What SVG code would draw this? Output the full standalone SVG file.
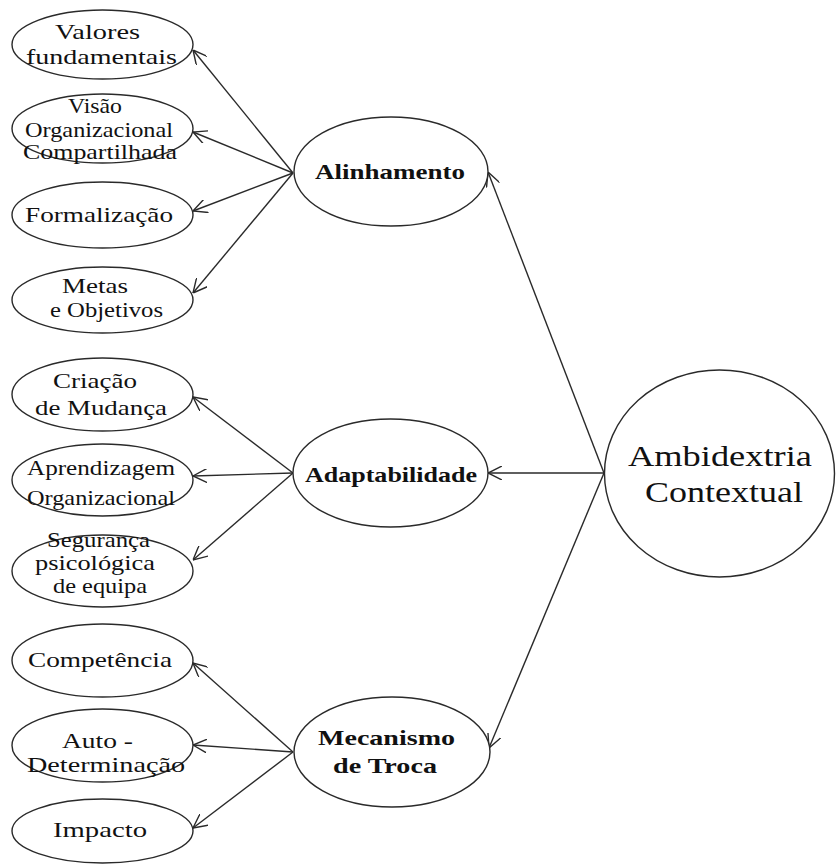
<svg xmlns="http://www.w3.org/2000/svg" width="836" height="866" viewBox="0 0 836 866">
<style>
.n{fill:#fff;stroke:#2a2a2a;stroke-width:1.4}
.t{font-family:"Liberation Serif","Times New Roman",serif;font-size:21px;fill:#111}
.b{font-family:"Liberation Serif","Times New Roman",serif;font-size:22px;font-weight:bold;fill:#111}
.big{font-family:"Liberation Serif","Times New Roman",serif;font-size:29px;fill:#111}
.c{stroke:#2a2a2a;stroke-width:1.4;fill:none}
</style>
<defs>
<marker id="ar" viewBox="0 0 14 14" refX="14" refY="7" markerWidth="14" markerHeight="14" markerUnits="userSpaceOnUse" orient="auto">
<path d="M0,0 L14,7 L0,14" fill="none" stroke="#2a2a2a" stroke-width="1.4"/>
</marker>
</defs>
<rect width="836" height="866" fill="#fff"/>
<g id="connectors">
<line class="c" x1="293" y1="173" x2="193" y2="50" marker-end="url(#ar)"/>
<line class="c" x1="293" y1="173" x2="193" y2="132" marker-end="url(#ar)"/>
<line class="c" x1="293" y1="173" x2="193" y2="211" marker-end="url(#ar)"/>
<line class="c" x1="293" y1="173" x2="193" y2="293" marker-end="url(#ar)"/>
<line class="c" x1="293" y1="473" x2="193" y2="397" marker-end="url(#ar)"/>
<line class="c" x1="293" y1="473" x2="193" y2="476" marker-end="url(#ar)"/>
<line class="c" x1="293" y1="473" x2="193" y2="560" marker-end="url(#ar)"/>
<line class="c" x1="293" y1="752" x2="193" y2="663" marker-end="url(#ar)"/>
<line class="c" x1="293" y1="752" x2="193" y2="745" marker-end="url(#ar)"/>
<line class="c" x1="293" y1="752" x2="193" y2="828" marker-end="url(#ar)"/>
<line class="c" x1="604" y1="473" x2="488" y2="172" marker-end="url(#ar)"/>
<line class="c" x1="604" y1="473" x2="488" y2="473" marker-end="url(#ar)"/>
<line class="c" x1="604" y1="473" x2="489" y2="748" marker-end="url(#ar)"/>
</g>
<g id="valores"><ellipse class="n" cx="102.5" cy="44.5" rx="90.5" ry="34.5"/>
<text class="t" x="55" y="39" textLength="85" lengthAdjust="spacingAndGlyphs">Valores</text>
<text class="t" x="26" y="64" textLength="151" lengthAdjust="spacingAndGlyphs">fundamentais</text></g>
<g id="visao"><ellipse class="n" cx="102.5" cy="128.5" rx="90.5" ry="34.5"/>
<text class="t" x="68" y="113" textLength="54" lengthAdjust="spacingAndGlyphs">Visão</text>
<text class="t" x="25" y="137" textLength="148" lengthAdjust="spacingAndGlyphs">Organizacional</text>
<text class="t" x="23" y="159" textLength="154" lengthAdjust="spacingAndGlyphs">Compartilhada</text></g>
<g id="formalizacao"><ellipse class="n" cx="102.5" cy="215" rx="90.5" ry="33"/>
<text class="t" x="25" y="222" textLength="148" lengthAdjust="spacingAndGlyphs">Formalização</text></g>
<g id="metas"><ellipse class="n" cx="102.5" cy="300" rx="90.5" ry="33"/>
<text class="t" x="62" y="293" textLength="66" lengthAdjust="spacingAndGlyphs">Metas</text>
<text class="t" x="50" y="317" textLength="113" lengthAdjust="spacingAndGlyphs">e Objetivos</text></g>
<g id="criacao"><ellipse class="n" cx="102.5" cy="394.5" rx="90.5" ry="36.5"/>
<text class="t" x="53" y="388" textLength="84" lengthAdjust="spacingAndGlyphs">Criação</text>
<text class="t" x="35" y="415" textLength="132" lengthAdjust="spacingAndGlyphs">de Mudança</text></g>
<g id="aprendizagem"><ellipse class="n" cx="102.5" cy="480" rx="90.5" ry="36"/>
<text class="t" x="27" y="475" textLength="148" lengthAdjust="spacingAndGlyphs">Aprendizagem</text>
<text class="t" x="27" y="505" textLength="148" lengthAdjust="spacingAndGlyphs">Organizacional</text></g>
<g id="seguranca"><ellipse class="n" cx="102.5" cy="571" rx="90.5" ry="36"/>
<text class="t" x="47" y="547" textLength="103" lengthAdjust="spacingAndGlyphs">Segurança</text>
<text class="t" x="35" y="570" textLength="120" lengthAdjust="spacingAndGlyphs">psicológica</text>
<text class="t" x="53" y="593" textLength="94" lengthAdjust="spacingAndGlyphs">de equipa</text></g>
<g id="competencia"><ellipse class="n" cx="102.5" cy="660.5" rx="90.5" ry="36.5"/>
<text class="t" x="28" y="667" textLength="144" lengthAdjust="spacingAndGlyphs">Competência</text></g>
<g id="autodeterminacao"><ellipse class="n" cx="102.5" cy="745.5" rx="90.5" ry="36.5"/>
<text class="t" x="62" y="748" textLength="71" lengthAdjust="spacingAndGlyphs">Auto -</text>
<text class="t" x="27" y="772" textLength="158" lengthAdjust="spacingAndGlyphs">Determinação</text></g>
<g id="impacto"><ellipse class="n" cx="102.5" cy="831" rx="90.5" ry="32"/>
<text class="t" x="53" y="837" textLength="94" lengthAdjust="spacingAndGlyphs">Impacto</text></g>
<g id="alinhamento"><ellipse class="n" cx="391" cy="171.5" rx="97" ry="54.5"/>
<text class="b" x="315" y="179" textLength="150" lengthAdjust="spacingAndGlyphs">Alinhamento</text></g>
<g id="adaptabilidade"><ellipse class="n" cx="390.5" cy="473" rx="97.5" ry="54"/>
<text class="b" x="305" y="482" textLength="172" lengthAdjust="spacingAndGlyphs">Adaptabilidade</text></g>
<g id="mecanismo"><ellipse class="n" cx="392" cy="752" rx="98" ry="55"/>
<text class="b" x="318" y="745" textLength="137" lengthAdjust="spacingAndGlyphs">Mecanismo</text>
<text class="b" x="333" y="773" textLength="104" lengthAdjust="spacingAndGlyphs">de Troca</text></g>
<g id="ambidextria"><ellipse class="n" cx="719.5" cy="473.5" rx="115" ry="103.5"/>
<text class="big" x="628" y="466" textLength="184" lengthAdjust="spacingAndGlyphs">Ambidextria</text>
<text class="big" x="645" y="502" textLength="158" lengthAdjust="spacingAndGlyphs">Contextual</text></g>
</svg>
